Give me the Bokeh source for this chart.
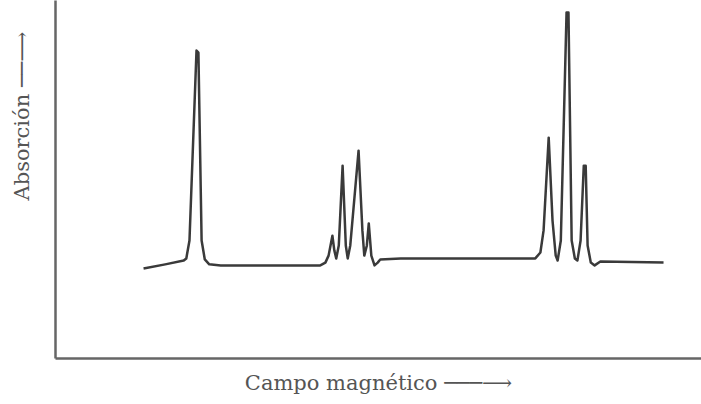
from bokeh.plotting import figure
from bokeh.models import Range1d, FixedTicker
from bokeh.embed import file_html
from bokeh.resources import INLINE

# Spectrum trace: magnetic field (arbitrary units) vs absorption (arbitrary units)
field = [13.8, 17.2, 20.1, 20.5, 21.0, 22.1, 22.4, 22.9, 23.4, 24.1, 25.9,
         41.5, 42.3, 42.8, 43.4, 43.7, 44.0, 44.4, 45.0, 45.5, 45.8, 46.2,
         47.5, 48.1, 48.4, 48.8, 49.1, 49.5, 50.0, 50.5, 50.9, 54.1,
         75.2, 76.0, 76.5, 77.3, 77.9, 78.4, 78.7, 79.2, 80.1, 80.4, 80.9,
         81.4, 81.8, 82.3, 82.8, 83.1, 83.4, 83.9, 84.5, 85.4, 95.3]
absorption = [25.7, 26.9, 28.0, 28.6, 33.7, 88.0, 87.4, 33.7, 28.3, 26.9, 26.6,
              26.6, 27.4, 29.4, 35.1, 30.9, 28.6, 32.3, 55.1, 32.3, 28.6, 32.3,
              59.4, 36.6, 29.4, 32.3, 38.6, 29.4, 26.6, 27.4, 28.3, 28.6,
              28.6, 30.3, 36.6, 63.1, 39.4, 29.4, 28.0, 33.7, 98.9, 98.9, 33.7,
              28.6, 28.0, 33.7, 55.1, 55.1, 32.3, 27.4, 26.6, 27.7, 27.4]

x_label = "Campo magnético \u2500\u2500\u2500\u27f6"
y_label = "Absorción \u2500\u2500\u27f6"
# non-breaking spaces shift the vertical label upward along the axis
y_pad = "\u00a0" * 19

p = figure(width=701, height=404, output_backend="svg", toolbar_location=None,
           x_range=Range1d(0, 101.25), y_range=Range1d(0, 102.3))
p.min_border_left = 55
p.min_border_right = 0
p.min_border_top = 0
p.min_border_bottom = 46
p.outline_line_color = None
p.grid.visible = False
p.background_fill_color = "white"
p.border_fill_color = "white"

font = "DejaVu Serif"
for ax in (p.xaxis[0], p.yaxis[0]):
    ax.ticker = FixedTicker(ticks=[])
    ax.axis_line_color = "#666666"
    ax.axis_line_width = 2.5
    ax.major_tick_line_color = None
    ax.minor_tick_line_color = None
    ax.axis_label_text_font = font
    ax.axis_label_text_font_size = "21px"
    ax.axis_label_text_font_style = "normal"
    ax.axis_label_text_color = "#555555"

p.xaxis[0].axis_label = x_label
p.xaxis[0].axis_label_standoff = 12
p.yaxis[0].axis_label = y_pad + y_label
p.yaxis[0].axis_label_standoff = 22

p.line(field, absorption, line_color="#3a3a3a", line_width=2.5, line_join="round")

open("out.html", "w").write(file_html(p, INLINE))
